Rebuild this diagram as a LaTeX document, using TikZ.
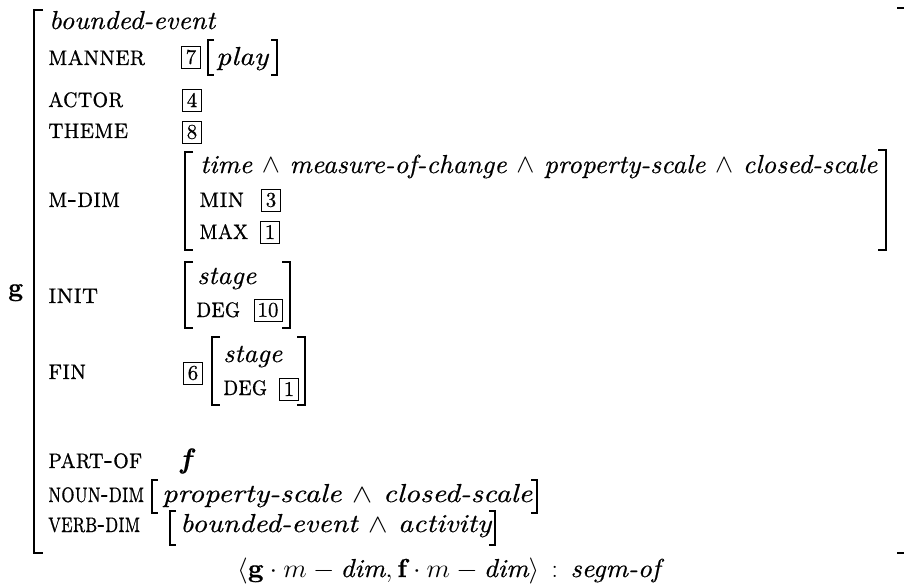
\RequirePackage{fix-cm}
\documentclass[tikz,border=0pt]{standalone}
\usepackage{amsmath,amssymb}
\usepackage{fontspec}
\setmainfont{lmroman10-regular.otf}[
  FakeBold=0.5,
  BoldFont=lmroman10-bold.otf,
  ItalicFont=lmroman10-italic.otf,
  BoldItalicFont=lmroman10-bolditalic.otf,
  SmallCapsFont=lmromancaps10-regular.otf]
\newcommand\fitw[2]{\resizebox{#1pt}{\height}{#2}}
\newcommand\wdg{\ $\wedge$\ }
\begin{document}
\begin{tikzpicture}[x=1pt,y=-1pt]
\tikzset{
  lbl/.style={anchor=base west, inner sep=0pt, font=\fontsize{28}{30}\selectfont\scshape},
  val/.style={anchor=base west, inner sep=0pt, font=\fontsize{26}{30}\selectfont\itshape},
  tag/.style={draw, line width=0.7pt, inner sep=0pt, minimum width=19pt, minimum height=22pt, font=\fontsize{21}{24}\selectfont},
  brk/.style={line width=1.5pt},
  sbrk/.style={line width=1.1pt},
}
\useasboundingbox (0,0) rectangle (904,588);
% outer bracket
\draw[brk] (43,10) -- (34,10) -- (34,553) -- (43,553);
\draw[brk] (897,8) -- (904,8);
\draw[brk] (897,553) -- (904,553);
\node[anchor=base west, inner sep=0pt, font=\fontsize{26}{30}\selectfont\bfseries] (g) at (8,296) {g};
% rows
\node[val] (type) at (49,29) {\fitw{166}{bounded-event}};
\node[lbl] (manner) at (48,65) {\fitw{97}{manner}};
\node[tag] (t7) at (191,57) {7};
\draw[sbrk] (214,40) -- (208,40) -- (208,75) -- (214,75);
\node[val] (play) at (216,65) {\fitw{52}{play}};
\draw[sbrk] (271,40) -- (277,40) -- (277,75) -- (271,75);
\node[lbl] (actor) at (48,107) {\fitw{75}{actor}};
\node[tag] (t4) at (192,100) {4};
\node[lbl] (theme) at (48,138) {\fitw{80}{theme}};
\node[tag] (t8) at (192,132) {8};
% m-dim
\node[lbl] (mdim) at (48,207) {\fitw{72}{m-dim}};
\draw[brk] (193,152) -- (185,152) -- (185,250) -- (193,250);
\draw[brk] (878,150) -- (886,150) -- (886,250) -- (878,250);
\node[val] (time) at (200,173) {\fitw{677}{time\wdg measure-of-change\wdg property-scale\wdg closed-scale}};
\node[lbl] (min) at (199,207) {\fitw{45}{min}};
\node[tag] (t3) at (271,200) {3};
\node[lbl] (max) at (199,239) {\fitw{49}{max}};
\node[tag] (t1a) at (270,232) {1};
% init
\node[lbl] (init) at (48,303) {\fitw{50}{init}};
\draw[brk] (193,262) -- (185,262) -- (185,328) -- (193,328);
\draw[brk] (282,262) -- (290,262) -- (290,328) -- (282,328);
\node[val] (stage1) at (197,284) {\fitw{59}{stage}};
\node[lbl] (deg1) at (196,317) {\fitw{44}{deg}};
\node[tag, minimum width=28pt] (t10) at (268,310) {10};
% fin
\node[lbl] (fin) at (48,379) {\fitw{38}{fin}};
\node[tag] (t6) at (193,373) {6};
\draw[brk] (220,337) -- (212,337) -- (212,405) -- (220,405);
\draw[brk] (297,337) -- (305,337) -- (305,405) -- (297,405);
\node[val] (stage2) at (223,362) {\fitw{59}{stage}};
\node[lbl] (deg2) at (223,395) {\fitw{44}{deg}};
\node[tag] (t1b) at (289,389) {1};
% part-of etc
\node[lbl] (partof) at (48,468) {\fitw{94}{part-of}};
\node[anchor=base west, inner sep=0pt, font=\fontsize{28}{30}\selectfont\bfseries\itshape] (f) at (180,468) {f};
\node[lbl] (noundim) at (48,502) {\fitw{96}{noun-dim}};
\draw[sbrk] (158,480) -- (152,480) -- (152,513) -- (158,513);
\node[val] (nval) at (162,502) {\fitw{370}{property-scale\wdg closed-scale}};
\draw[sbrk] (531,480) -- (537,480) -- (537,513) -- (531,513);
\node[lbl] (verbdim) at (48,532) {\fitw{92}{verb-dim}};
\draw[sbrk] (176,511) -- (170,511) -- (170,545) -- (176,545);
\node[val] (vval) at (180,532) {\fitw{311}{bounded-event\wdg activity}};
\draw[sbrk] (489,511) -- (495,511) -- (495,545) -- (489,545);
% formula
\node[anchor=base west, inner sep=0pt, font=\fontsize{26}{30}\selectfont] (formula) at (237,577)
  {\fitw{423}{$\langle \mathbf{g}\cdot m - \textit{dim}, \mathbf{f}\cdot m - \textit{dim}\rangle \,:\, \textit{segm-of}$}};
\end{tikzpicture}
\end{document}
